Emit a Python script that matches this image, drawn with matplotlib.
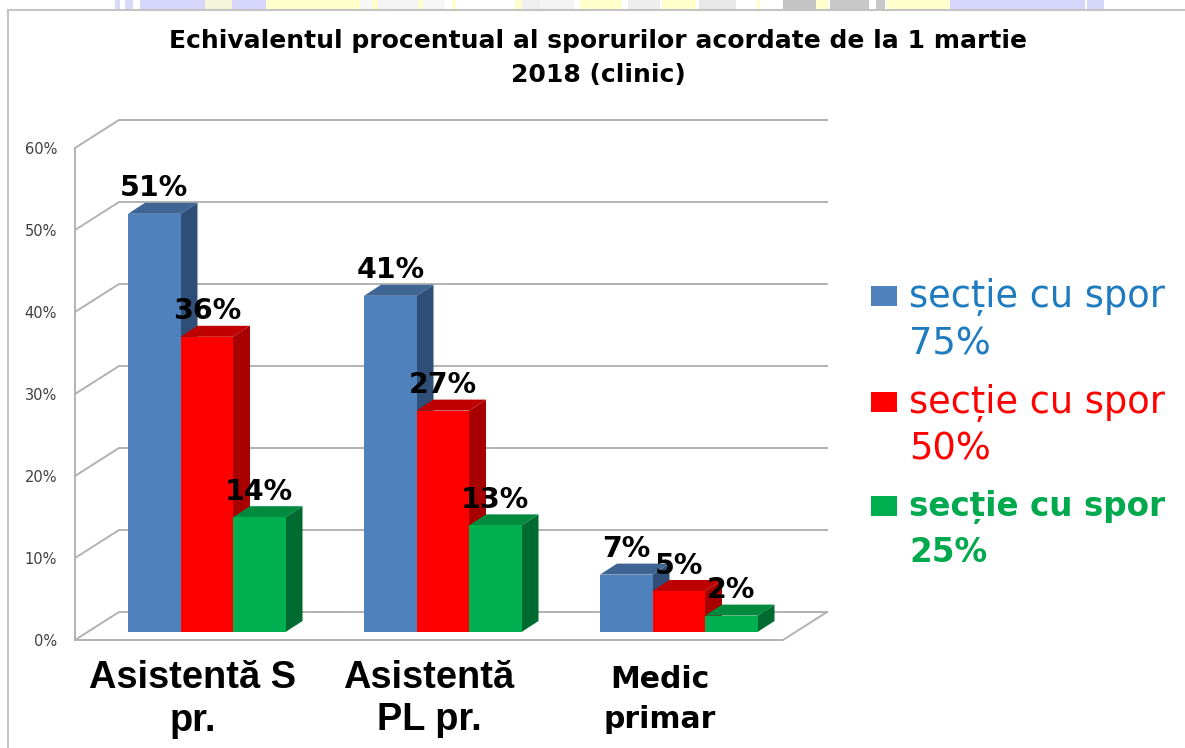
import matplotlib
matplotlib.use("Agg")
import matplotlib.pyplot as plt
from matplotlib.patches import Rectangle
from matplotlib.lines import Line2D
from matplotlib.transforms import ScaledTranslation

W, H = 1185, 748
title = "Echivalentul procentual al sporurilor acordate de la 1 martie\n2018 (clinic)"
categories = ["Asistentă S\npr.", "Asistentă\nPL pr.", "Medic\nprimar"]
series_names = ["secție cu spor\n75%", "secție cu spor\n50%", "secție cu spor\n25%"]
values_75 = [51, 41, 7]
values_50 = [36, 27, 5]
values_25 = [14, 13, 2]
y_ticks = [0, 10, 20, 30, 40, 50, 60]

front_colors = ["#4F81BD", "#FF0000", "#00B050"]
side_colors = ["#2F4F78", "#A80000", "#006B30"]
top_colors = ["#3E6594", "#BF0000", "#008A3E"]
text_colors = ["#1F7BBF", "#FF0000", "#00A84E"]
grid = "#B2B2B2"
FONT = "DejaVu Sans"

def px_x(x): return x / W
def px_y(y): return 1 - y / H

fig = plt.figure(figsize=(W / 100, H / 100), dpi=100, facecolor="white")

# strip of the picture behind the chart, visible above its frame
strip = [(115, 120, "#D9D9FA"), (125, 133, "#D9D9FA"), (140, 266, "#D6D6FA"), (205, 232, "#F4F4D8"),
         (266, 360, "#FFFFCC"), (360, 372, "#F7F7F7"), (372, 378, "#FFFFCC"), (378, 418, "#F5F5F5"),
         (418, 423, "#FFFFCC"), (423, 445, "#F7F7F7"), (452, 456, "#FFFFCC"), (515, 522, "#FFFFCC"),
         (522, 540, "#EFEFEF"), (540, 574, "#F3F3F3"), (580, 622, "#FFFFCC"), (628, 660, "#EEEEEE"),
         (662, 696, "#FFFFCC"), (699, 736, "#E8E8E8"), (757, 760, "#FFFFCC"), (783, 816, "#C4C4C4"),
         (816, 828, "#FFFFCC"), (830, 869, "#C8C8C8"), (876, 885, "#C8C8C8"), (887, 950, "#FFFFCC"),
         (950, 1085, "#D6D6FA"), (1087, 1104, "#D6D6FA")]
for x0, x1, col in strip:
    fig.add_artist(Rectangle((px_x(x0), px_y(9.5)), (x1 - x0) / W, 9.5 / H, transform=fig.transFigure,
                             facecolor=col, edgecolor="none"))
fig.add_artist(Line2D([px_x(8), px_x(8)], [0, px_y(10)], color="#C4C4C4", lw=1.5))
fig.add_artist(Line2D([px_x(8), 1], [px_y(10), px_y(10)], color="#C4C4C4", lw=1.5))

ax = fig.add_axes([px_x(75), px_y(640), (783 - 75) / W, (640 - 148) / H])
ax.set_xlim(-0.5, 2.5)
ax.set_ylim(0, 60)
ux = 708 / 3          # px per category
uy = 492 / 60         # px per percent
wall_dx, wall_dy = 44 / ux, 28 / uy
bar_w = 52.5 / ux
first_bar = 53 / ux
bar_y0 = 8 / uy
bar_dx, bar_dy = 17 / ux, 11 / uy

# walls and floor
for t in y_ticks:
    ax.plot([-0.5, -0.5 + wall_dx, 2.5 + wall_dx], [t, t + wall_dy, t + wall_dy],
            color=grid, lw=1.4, clip_on=False, zorder=1)
ax.plot([-0.5, -0.5], [0, 60], color=grid, lw=1.4, clip_on=False, zorder=1)
ax.plot([-0.5, 2.5, 2.5 + wall_dx], [0, 0, wall_dy], color=grid, lw=1.4, clip_on=False, zorder=1)

# bars
z = 2
for c, vals in enumerate([values_75, values_50, values_25]):
    for i, v in enumerate(vals):
        x0 = i - 0.5 + first_bar + c * bar_w
        x1 = x0 + bar_w
        y1 = bar_y0 + v
        ax.bar(x0, v, width=bar_w, bottom=bar_y0, align="edge", color=front_colors[c], zorder=z + 2)
        ax.fill([x1, x1 + bar_dx, x1 + bar_dx, x1],
                [bar_y0, bar_y0 + bar_dy, y1 + bar_dy, y1],
                color=side_colors[c], lw=0, zorder=z + 1, clip_on=False)
        ax.fill([x0, x0 + bar_dx, x1 + bar_dx, x1],
                [y1, y1 + bar_dy, y1 + bar_dy, y1],
                color=top_colors[c], lw=0, zorder=z + 1, clip_on=False)
        ax.annotate(f"{v}%", (x0 + bar_w / 2, y1), xytext=(0, 18.3), textcoords="offset points",
                    ha="center", va="center", fontsize=20.5, fontweight="bold",
                    family=FONT, color="black", zorder=20, annotation_clip=False)
    z += 3

for s in ax.spines.values():
    s.set_visible(False)
ax.patch.set_alpha(0)
ax.set_yticks(y_ticks)
ax.set_yticklabels([f"{t}%" for t in y_ticks], fontsize=10.5, family=FONT, color="#404040")
ax.tick_params(axis="y", length=0, pad=13)
ax.set_xticks(range(3))
ax.set_xticklabels(categories)
ax.tick_params(axis="x", length=0, pad=14)
for lab, fam, size, ls, dx, dy in zip(ax.get_xticklabels(),
                                      ["Liberation Sans", "Liberation Sans", FONT],
                                      [27.4, 27.4, 21.5], [1.23, 1.21, 1.47], [0, 0, -5], [-1, -1, -6]):
    lab.set_family(fam)
    lab.set_fontsize(size)
    lab.set_fontweight("bold")
    lab.set_linespacing(ls)
    lab.set_transform(lab.get_transform() + ScaledTranslation(dx / 100, dy / 100, fig.dpi_scale_trans))

fig.text(px_x(598), px_y(58), title, ha="center", va="center", fontsize=18,
         fontweight="bold", family=FONT, color="black", linespacing=1.55)

# legend
for name, fc, tc, y, w in zip(series_names, front_colors, text_colors, [296.5, 401.5, 506],
                              ["normal", "normal", "bold"]):
    fig.add_artist(Rectangle((px_x(871), px_y(y + 10)), 26 / W, 20 / H, transform=fig.transFigure,
                             facecolor=fc, edgecolor="none"))
    bold = w == "bold"
    fig.text(px_x(909), px_y(y - (16 if bold else 18)), name, ha="left", va="top",
             fontsize=23.5 if bold else 26.5, family=FONT,
             color=tc, fontweight=w, linespacing=1.47 if bold else 1.30)

fig.savefig("out.png", dpi=100)
